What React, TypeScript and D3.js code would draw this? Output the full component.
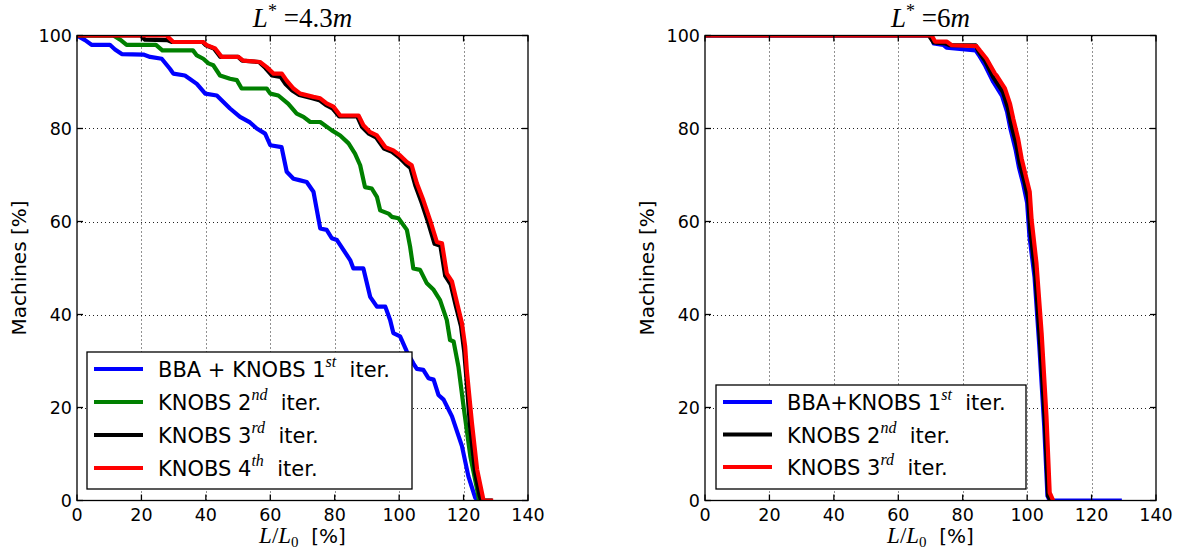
import React from "react";
import * as d3 from "d3";

type P = [number, number];

// ---------- data: left panel (L* = 4.3 m) ----------
const leftBlue: P[] = [[0,100],[2.5,99],[4.5,98],[10.2,98],[11.8,97],[13.9,96],[20.6,95.9],[22.7,95.4],[26.3,95],[28.9,92.8],[29.9,91.8],[33.5,91.4],[37.2,89.6],[39.8,87.5],[43.4,87.1],[47.5,84.3],[50.6,82.5],[53.7,81.3],[55.8,80],[58.4,78.9],[60,76.4],[63.5,76],[65.1,70.7],[67.2,69.2],[69,68.9],[71.3,68.5],[73.4,66.4],[75.5,58.5],[77.5,58.2],[79.1,56.4],[80.7,56],[84.8,51.7],[85.8,49.9],[88.9,49.9],[91,43.8],[93.1,41.7],[95.7,41.7],[97.2,38.8],[98.2,36],[100.3,35.3],[102.4,32],[104.4,29.5],[105.5,28.3],[107.5,28.1],[109.1,26.3],[110.7,26],[112.2,22.7],[113.8,21.7],[116.4,18.1],[119.5,11.7],[121.5,5.2],[123.6,0.6],[124.5,0],[129,0]];
const leftGreen: P[] = [[0,100],[11.3,100],[13.4,99.1],[15.4,98],[24.5,98],[26.5,96.8],[36,96.8],[37.2,95.7],[39.2,95],[40.8,94],[42.3,93.6],[44.4,91.4],[47.5,90.7],[49.6,90.4],[51.1,88.6],[58.9,88.6],[60,87.5],[62.5,87.1],[65.6,85.3],[68.2,83.2],[70.3,82.5],[72.4,81.4],[75.5,81.4],[79.1,79.6],[81.7,78.5],[84.3,76.8],[86.3,74.6],[87.9,72.1],[89.4,67.4],[91.5,67.1],[93.1,65.3],[94.1,62.4],[96.7,61.7],[97.7,61],[99.8,60.7],[102.4,58.2],[103.4,54.6],[104.4,49.9],[106.5,49.6],[108.6,46.7],[110.7,45.3],[112.7,43.1],[114.8,38.8],[115.8,34.5],[116.9,34.2],[118.4,28.8],[120,20.2],[122.1,9.5],[124.2,2.4],[124.8,0],[129,0]];
const leftBlack: P[] = [[0,100],[19.8,100],[21.1,99.1],[28,99],[29.5,98.6],[39,98.6],[40,97.9],[42.5,97.2],[44.5,95.4],[50,95.4],[51.3,94.6],[56.5,94.3],[58.5,93],[60.5,91.4],[63.2,91.1],[64.8,89.5],[66.8,88.2],[69,87.2],[73,86.5],[75.2,86.1],[77.2,85.1],[79.3,84.3],[81.4,82.6],[87,82.6],[88.5,80.3],[90.6,78.9],[92.8,78.1],[95.3,75.7],[97.8,75],[100,73.8],[102,72.4],[103.5,71.5],[105,67.8],[107,64],[109,59.8],[111,55.2],[112.8,54.8],[114.3,48.3],[116,46.5],[117.6,41.8],[119.2,37.5],[120.2,32],[120.8,27],[122,16],[123.6,6],[125,1],[125.5,0]];
const leftRed: P[] = [[0,100],[27.8,100],[29.9,98.6],[39.2,98.6],[40.3,97.9],[42.9,97.2],[44.9,95.4],[50.1,95.4],[51.6,94.6],[56.8,94.3],[58.9,93.2],[61,91.8],[63.6,91.8],[65.1,90.3],[67.2,88.6],[69.3,87.5],[73.4,86.8],[75.5,86.5],[77.5,85.4],[79.6,84.7],[81.7,82.8],[87.4,82.8],[88.9,80.7],[91,79.2],[93.1,78.5],[95.7,76],[98.2,75.3],[100.3,74.2],[102.4,72.8],[103.9,72.1],[105.5,68.2],[107.5,64.6],[109.6,60.3],[111.7,55.6],[113.3,55.3],[114.8,48.8],[116.4,47.1],[118,42.4],[119.5,38.1],[120.5,33.1],[121,28.1],[122.6,16.7],[124.2,6.7],[125.7,1.7],[126.2,0],[129.2,0]];

// ---------- data: right panel (L* = 6 m) ----------
const rightBlue: P[] = [[0,100],[70,100],[71,98.3],[74,98],[75,97.4],[84,96.8],[85,95.8],[87,93.5],[89.5,90],[92.2,87],[93.8,83.5],[94.8,80],[96.4,75.5],[97.5,71.5],[98.8,68],[100,64],[100.7,57],[102.3,48],[103.8,33],[105.3,16],[106.3,1],[107,0],[129.4,0]];
const rightBlack: P[] = [[0,100],[69.5,100],[71,98.5],[74.5,98.3],[76,97.9],[84,97.9],[85,96.5],[87,94.5],[89.5,91],[92.5,87.8],[94,84.5],[95,81],[96.6,76.8],[97.7,72.5],[99.2,68.5],[100.3,65],[101,58],[102.5,49],[104,34],[105.5,17],[106.5,1],[107.3,0]];
const rightRed: P[] = [[0,100],[70.4,100],[71.4,98.7],[75,98.7],[76.6,97.9],[84.3,97.7],[85.3,96.8],[87.4,95],[90,91.8],[90.5,91.4],[93.1,88.6],[94.7,85.3],[95.7,82.1],[97.2,77.8],[98.3,73.5],[99.8,69.2],[100.8,66.4],[101.4,60.3],[102.9,51],[104.5,36],[106,18.1],[107,1.7],[108.1,0]];

const xTicks = [0, 20, 40, 60, 80, 100, 120, 140];
const yTicks = [0, 20, 40, 60, 80, 100];

type Series = { data: P[]; color: string; base: string; sup: string; suffix: string };

const leftSeries: Series[] = [
  { data: leftBlue, color: "#0000ff", base: "BBA + KNOBS 1", sup: "st", suffix: "iter." },
  { data: leftGreen, color: "#008000", base: "KNOBS 2", sup: "nd", suffix: "iter." },
  { data: leftBlack, color: "#000000", base: "KNOBS 3", sup: "rd", suffix: "iter." },
  { data: leftRed, color: "#ff0000", base: "KNOBS 4", sup: "th", suffix: "iter." },
];
const rightSeries: Series[] = [
  { data: rightBlue, color: "#0000ff", base: "BBA+KNOBS 1", sup: "st", suffix: "iter." },
  { data: rightBlack, color: "#000000", base: "KNOBS 2", sup: "nd", suffix: "iter." },
  { data: rightRed, color: "#ff0000", base: "KNOBS 3", sup: "rd", suffix: "iter." },
];

const SANS = "'DejaVu Sans', sans-serif";
const MATH = "'Liberation Serif', 'DejaVu Serif', serif";

type PanelProps = {
  id: string;
  x0: number;
  x1: number;
  series: Series[];
  titleVal: string;
  legend: { x: number; y: number; w: number; h: number; rowGap: number };
};

function Panel({ id, x0, x1, series, titleVal, legend }: PanelProps) {
  const yTop = 35.5;
  const yBot = 500.5;
  const xs = d3.scaleLinear().domain([0, 140]).range([x0, x1]);
  const ys = d3.scaleLinear().domain([0, 100]).range([yBot, yTop]);
  const line = d3
    .line<P>()
    .x((d) => xs(d[0]))
    .y((d) => ys(d[1]));
  const cx = (x0 + x1) / 2;
  const tickLen = 6;
  return (
    <g>
      <defs>
        <clipPath id={`clip-${id}`}>
          <rect x={x0} y={yTop} width={x1 - x0} height={yBot - yTop} />
        </clipPath>
      </defs>
      <g stroke="#222" strokeWidth={1} strokeDasharray="1 3" fill="none">
        {xTicks.slice(1, -1).map((t) => (
          <line key={"gx" + t} x1={Math.round(xs(t)) + 0.5} x2={Math.round(xs(t)) + 0.5} y1={yTop} y2={yBot} />
        ))}
        {yTicks.slice(1, -1).map((t) => (
          <line key={"gy" + t} x1={x0} x2={x1} y1={Math.round(ys(t)) + 0.5} y2={Math.round(ys(t)) + 0.5} />
        ))}
      </g>
      <g clipPath={`url(#clip-${id})`} fill="none" strokeWidth={4.2} strokeLinejoin="round" strokeLinecap="butt">
        {series.map((s, i) => (
          <path key={i} d={line(s.data) || ""} stroke={s.color} />
        ))}
      </g>
      <rect x={x0} y={yTop} width={x1 - x0} height={yBot - yTop} fill="none" stroke="#000" strokeWidth={1.3} />
      <g stroke="#000" strokeWidth={1.3}>
        {xTicks.map((t) => (
          <g key={"tx" + t}>
            <line x1={xs(t)} x2={xs(t)} y1={yBot} y2={yBot - tickLen} />
            <line x1={xs(t)} x2={xs(t)} y1={yTop} y2={yTop + tickLen} />
          </g>
        ))}
        {yTicks.map((t) => (
          <g key={"ty" + t}>
            <line x1={x0} x2={x0 + tickLen} y1={ys(t)} y2={ys(t)} />
            <line x1={x1} x2={x1 - tickLen} y1={ys(t)} y2={ys(t)} />
          </g>
        ))}
      </g>
      <g fontFamily={SANS} fontSize={17.5} fill="#000">
        {xTicks.map((t) => (
          <text key={"lx" + t} x={xs(t)} y={yBot + 20} textAnchor="middle">
            {t}
          </text>
        ))}
        {yTicks.map((t) => (
          <text key={"ly" + t} x={x0 - 5} y={ys(t) + 6} textAnchor="end">
            {t}
          </text>
        ))}
      </g>
      <text x={cx} y={27} textAnchor="middle" fontFamily={MATH} fontSize={27} fill="#000">
        <tspan fontStyle="italic">L</tspan>
        <tspan dy={-10} fontSize={18}>*</tspan>
        <tspan dy={10}>{"\u00a0="}{titleVal}</tspan>
        <tspan fontStyle="italic">m</tspan>
      </text>
      <text x={cx} y={543} textAnchor="middle" fontSize={20} fill="#000">
        <tspan fontFamily={MATH} fontStyle="italic" fontSize={23}>L</tspan>
        <tspan fontFamily={MATH} fontSize={23}>/</tspan>
        <tspan fontFamily={MATH} fontStyle="italic" fontSize={23}>L</tspan>
        <tspan fontFamily={MATH} fontSize={15} dy={4}>0</tspan>
        <tspan fontFamily={SANS} dy={-4}>{"\u00a0\u00a0[%]"}</tspan>
      </text>
      <text
        transform={`translate(${x0 - 51},${(yTop + yBot) / 2}) rotate(-90)`}
        textAnchor="middle"
        fontFamily={SANS}
        fontSize={20}
        fill="#000"
      >
        Machines [%]
      </text>
      <g>
        <rect x={legend.x} y={legend.y} width={legend.w} height={legend.h} fill="#fff" stroke="#000" strokeWidth={1.3} />
        {series.map((s, i) => {
          const cy = legend.y + 17 + i * legend.rowGap;
          return (
            <g key={"lg" + i}>
              <line x1={legend.x + 7} x2={legend.x + 56} y1={cy} y2={cy} stroke={s.color} strokeWidth={4.2} />
              <text x={legend.x + 71} y={cy + 8} fontFamily={SANS} fontSize={21} fill="#000">
                <tspan>{s.base}</tspan>
                <tspan fontFamily={MATH} fontStyle="italic" fontSize={16} dy={-10}>{s.sup}</tspan>
                <tspan dy={10}>{"\u00a0\u00a0" + s.suffix}</tspan>
              </text>
            </g>
          );
        })}
      </g>
    </g>
  );
}

export default function App() {
  return (
    <svg
      width={1178}
      height={557}
      style={{ position: "absolute", left: 0, top: 0, background: "#fff" }}
      xmlns="http://www.w3.org/2000/svg"
    >
      <rect x={0} y={0} width={1178} height={557} fill="#fff" />
      <Panel
        id="l"
        x0={77}
        x1={528}
        series={leftSeries}
        titleVal="4.3"
        legend={{ x: 87, y: 352, w: 325, h: 137, rowGap: 33 }}
      />
      <Panel
        id="r"
        x0={705}
        x1={1156}
        series={rightSeries}
        titleVal="6"
        legend={{ x: 716, y: 385, w: 310, h: 104, rowGap: 32.5 }}
      />
    </svg>
  );
}
